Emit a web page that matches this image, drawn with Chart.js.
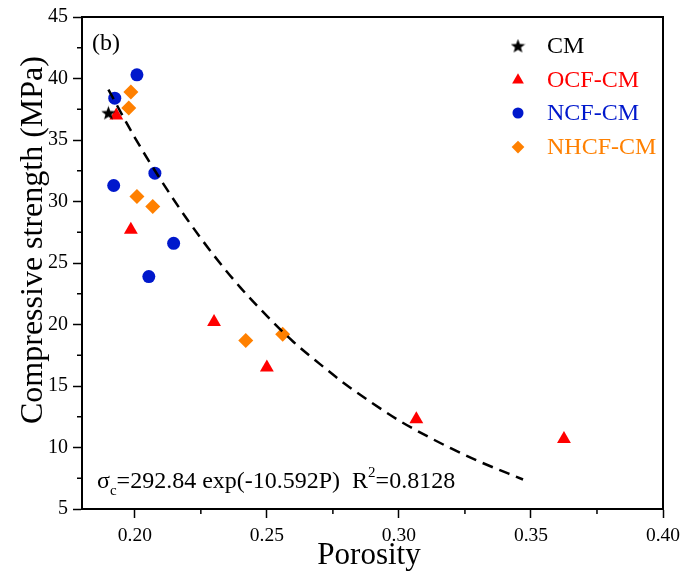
<!DOCTYPE html>
<html>
<head>
<meta charset="utf-8">
<script src="https://cdn.jsdelivr.net/npm/chart.js@4.4.0/dist/chart.umd.min.js"></script>
<style>
  html, body { margin: 0; padding: 0; background: #fff; }
  #wrap { width: 694px; height: 574px; }
</style>
</head>
<body>
<div id="wrap"><canvas id="chart" width="694" height="574"></canvas></div>
<script>
// values
var cmX = [0.190];
var cmY = [37.2];
var ocfX = [0.193, 0.1985, 0.230, 0.250, 0.3066, 0.3625];
var ocfY = [37.0, 27.7, 20.2, 16.5, 12.3, 10.7];
var ncfX = [0.2008, 0.1924, 0.2076, 0.192, 0.2147, 0.2053];
var ncfY = [40.3, 38.4, 32.3, 31.3, 26.6, 23.9];
var nhcfX = [0.1985, 0.1977, 0.2008, 0.2068, 0.242, 0.256];
var nhcfY = [38.9, 37.6, 30.4, 29.6, 18.7, 19.2];
// dashed fit curve
var fitX = [0.190, 0.200, 0.210, 0.220, 0.230, 0.240, 0.250, 0.260, 0.270, 0.280, 0.290, 0.300, 0.310, 0.320, 0.330, 0.347];
var fitY = [39.1, 35.2, 31.7, 28.5, 25.6, 23.0, 20.7, 18.6, 16.8, 15.1, 13.6, 12.2, 11.0, 9.9, 8.9, 7.4];
var xTickVals = [0.20, 0.25, 0.30, 0.35, 0.40];
var yTickVals = [5, 10, 15, 20, 25, 30, 35, 40, 45];
var xMinor = [0.225, 0.275, 0.325, 0.375];
var yMinor = [7.5, 12.5, 17.5, 22.5, 27.5, 32.5, 37.5, 42.5];
var seriesNames = ['CM', 'OCF-CM', 'NCF-CM', 'NHCF-CM'];

var serif = '"Liberation Serif", "Times New Roman", serif';
var RED = '#FF0000';
var BLUE = '#0018CC';
var ORANGE = '#FF8000';

function pts(xs, ys) {
  return xs.map(function (x, i) { return { x: x, y: ys[i] }; });
}

// filled star, chart.js "star" is only stroked
function makeStar(size, color) {
  var c = document.createElement('canvas');
  c.width = size; c.height = size;
  var g = c.getContext('2d');
  var cx = size / 2, cy = size / 2 + 0.5, ro = size / 2, ri = ro * 0.42;
  g.beginPath();
  for (var i = 0; i < 10; i++) {
    var r = i % 2 == 0 ? ro : ri;
    var a = -Math.PI / 2 + i * Math.PI / 5;
    g.lineTo(cx + r * Math.cos(a), cy + r * Math.sin(a));
  }
  g.closePath();
  g.fillStyle = color;
  g.fill();
  return c;
}
var star = makeStar(15, '#000');

var markers = [
  { style: star, radius: 7, color: '#000' },
  { style: 'triangle', radius: 8, color: RED },
  { style: 'circle', radius: 6.5, color: BLUE },
  { style: 'rectRot', radius: 7.5, color: ORANGE }
];

var extras = {
  id: 'extras',
  afterDraw: function (chart) {
    var ctx = chart.ctx;
    var a = chart.chartArea;
    var xs = chart.scales.x, ys = chart.scales.y;
    ctx.save();
    // frame top + right
    ctx.strokeStyle = '#000';
    ctx.lineWidth = 2;
    ctx.beginPath();
    ctx.moveTo(a.left - 1, a.top);
    ctx.lineTo(a.right, a.top);
    ctx.lineTo(a.right, a.bottom + 1);
    ctx.stroke();
    // minor ticks
    ctx.lineWidth = 1.5;
    ctx.beginPath();
    yMinor.forEach(function (v) {
      var py = ys.getPixelForValue(v);
      ctx.moveTo(a.left - 5, py);
      ctx.lineTo(a.left, py);
    });
    xMinor.forEach(function (v) {
      var px = xs.getPixelForValue(v);
      ctx.moveTo(px, a.bottom);
      ctx.lineTo(px, a.bottom + 5);
    });
    ctx.stroke();

    ctx.fillStyle = '#000';
    // axis titles
    ctx.font = '31px ' + serif;
    ctx.textAlign = 'center';
    ctx.textBaseline = 'alphabetic';
    ctx.fillText('Porosity', 369, 564);
    ctx.save();
    ctx.translate(34, 240);
    ctx.rotate(-Math.PI / 2);
    ctx.font = '32px ' + serif;
    ctx.textBaseline = 'middle';
    ctx.fillText('Compressive strength (MPa)', 0, 0);
    ctx.restore();

    // panel label
    ctx.font = '24px ' + serif;
    ctx.textBaseline = 'middle';
    ctx.textAlign = 'left';
    ctx.fillText('(b)', 92, 44);

    // legend
    var rows = [46, 80, 113, 147];
    var textCols = ['#000', RED, BLUE, ORANGE];
    ctx.font = '24px ' + serif;
    markers.forEach(function (m, i) {
      ctx.fillStyle = m.color;
      Chart.helpers.drawPoint(ctx, { pointStyle: m.style, radius: m.radius * 0.85, rotation: 0, borderWidth: 0 }, 518, rows[i]);
      ctx.fillStyle = textCols[i];
      ctx.fillText(seriesNames[i], 547, rows[i] + 1);
    });

    // fit equation
    ctx.fillStyle = '#000';
    var x = 97, y = 482;
    ctx.font = '24px ' + serif;
    ctx.fillText('\u03C3', x, y);
    x += ctx.measureText('\u03C3').width;
    ctx.font = '15px ' + serif;
    ctx.fillText('c', x, y + 9);
    x += ctx.measureText('c').width;
    ctx.font = '24px ' + serif;
    var s1 = '=292.84 exp(-10.592P)  R';
    ctx.fillText(s1, x, y);
    x += ctx.measureText(s1).width;
    ctx.font = '15px ' + serif;
    ctx.fillText('2', x, y - 9);
    x += ctx.measureText('2').width;
    ctx.font = '24px ' + serif;
    ctx.fillText('=0.8128', x, y);
    ctx.restore();
  }
};

new Chart(document.getElementById('chart'), {
  type: 'scatter',
  data: {
    datasets: [
      {
        label: 'fit',
        data: pts(fitX, fitY),
        showLine: true,
        borderColor: '#000',
        borderWidth: 2.5,
        borderDash: [11, 7],
        pointRadius: 0,
        cubicInterpolationMode: 'monotone',
        fill: false
      },
      { label: seriesNames[0], data: pts(cmX, cmY), pointStyle: star, pointRadius: 7, backgroundColor: '#000', borderWidth: 0 },
      { label: seriesNames[1], data: pts(ocfX, ocfY), pointStyle: 'triangle', pointRadius: 8, backgroundColor: RED, borderWidth: 0 },
      { label: seriesNames[2], data: pts(ncfX, ncfY), pointStyle: 'circle', pointRadius: 6.5, backgroundColor: BLUE, borderWidth: 0 },
      { label: seriesNames[3], data: pts(nhcfX, nhcfY), pointStyle: 'rectRot', pointRadius: 7.5, backgroundColor: ORANGE, borderWidth: 0 }
    ]
  },
  options: {
    responsive: false,
    animation: false,
    layout: { padding: { top: 17, right: 31, left: 0, bottom: 0 } },
    plugins: {
      legend: { display: false },
      tooltip: { enabled: false }
    },
    scales: {
      x: {
        type: 'linear',
        min: 0.18,
        max: 0.40,
        afterBuildTicks: function (s) { s.ticks = xTickVals.map(function (v) { return { value: v }; }); },
        afterFit: function (s) { s.height = 65; },
        grid: { drawOnChartArea: false, tickLength: 9, tickColor: '#000', tickWidth: 1.5 },
        border: { color: '#000', width: 2 },
        ticks: {
          color: '#000',
          font: { family: serif, size: 19.5 },
          padding: 6,
          maxRotation: 0,
          callback: function (v) { return Number(v).toFixed(2); }
        },
        title: { display: false }
      },
      y: {
        type: 'linear',
        min: 5,
        max: 45,
        afterBuildTicks: function (s) { s.ticks = yTickVals.map(function (v) { return { value: v }; }); },
        afterFit: function (s) { s.width = 82; },
        grid: { drawOnChartArea: false, tickLength: 9, tickColor: '#000', tickWidth: 1.5 },
        border: { color: '#000', width: 2 },
        ticks: {
          color: '#000',
          font: { family: serif, size: 20 },
          padding: 5
        },
        title: { display: false }
      }
    }
  },
  plugins: [extras]
});
</script>
</body>
</html>
